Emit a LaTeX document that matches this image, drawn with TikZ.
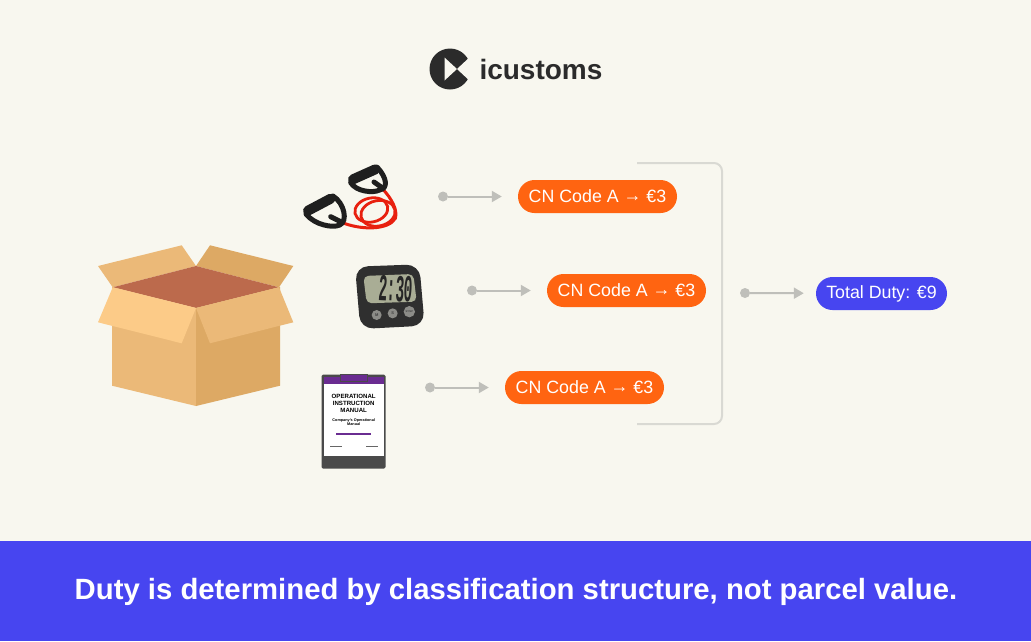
\documentclass[tikz,border=0pt]{standalone}
\usepackage{fontspec}
\usepackage{xcolor}
\usepackage{tikz}
\usetikzlibrary{arrows.meta, shapes.misc}
\setmainfont{Liberation Sans}
\newfontfamily\lcdfont{Liberation Mono}
\definecolor{pagecream}{HTML}{F8F7EF}
\definecolor{dutyblue}{HTML}{4745F0}
\definecolor{codeorange}{HTML}{FF6411}
\definecolor{flowgrey}{HTML}{BFBFBA}
\definecolor{bracketgrey}{HTML}{D9D9D3}
\definecolor{logodark}{HTML}{2B2B2B}
\definecolor{boxlight}{HTML}{EBB978}
\definecolor{boxdark}{HTML}{DDA964}
\definecolor{boxflap}{HTML}{FCCB88}
\definecolor{boxinner}{HTML}{BC6A4C}
\definecolor{clipgrey}{HTML}{4A4A4A}
\definecolor{clippurple}{HTML}{6A2C91}
\definecolor{timerblack}{HTML}{2F2F2F}
\definecolor{timerlcd}{HTML}{A9AD95}
\definecolor{timerkey}{HTML}{8C8C88}
\definecolor{bandred}{HTML}{E8200F}
\newcommand{\codearrow}{\raisebox{1.5pt}{→}}
\tikzset{
    pill/.style={rounded rectangle, fill=#1, text=white, inner sep=0pt, minimum height=33pt, font=\fontsize{17.8}{18}\selectfont},
    flowdot/.style={circle, fill=flowgrey, inner sep=0pt, minimum size=10pt},
    flow/.style={draw=flowgrey, line width=2pt, -{Triangle[length=10pt,width=11pt]}, shorten >=16pt},
    grip/.style={draw=black!88, line cap=round},
}
\begin{document}
\begin{tikzpicture}[x=1pt, y=-1pt]
    \useasboundingbox (0,0) rectangle (1031,641);
    \fill[pagecream] (0,0) rectangle (1031,641);

    % Bottom banner
    \fill[dutyblue] (0,541) rectangle (1031,641);
    \node[text=white, font=\fontsize{29.3}{30}\selectfont\bfseries] (bannertext) at (516,591.5) {Duty is determined by classification structure, not parcel value.};

    % Logo
    \fill[logodark] (450,69) circle (20.5);
    \fill[pagecream] (444.5,57.5) -- (444.5,80.5) -- (457,69) -- cycle;
    \fill[pagecream] (457,69) -- (472,55) -- (472,83) -- cycle;
    \node[text=logodark, anchor=west, font=\fontsize{28}{28}\selectfont\bfseries] (logotext) at (476,69) {icustoms};

    % Open parcel
    \fill[boxlight] (98,266) -- (181.7,245.3) -- (196,266) -- (112.7,287.3) -- cycle;
    \fill[boxdark] (196,266) -- (210,245.3) -- (293.3,266) -- (279,287.3) -- cycle;
    \fill[boxinner] (196,266) -- (279,287.3) -- (196,308) -- (112.7,287.3) -- cycle;
    \fill[boxlight] (112,287) -- (196,308) -- (196,406) -- (112,385.7) -- cycle;
    \fill[boxdark] (196,308) -- (280,287) -- (280,385.7) -- (196,406) -- cycle;
    \fill[boxflap] (112.7,287.3) -- (196,308) -- (181.7,343.3) -- (98,322.3) -- cycle;
    \fill[boxlight] (196,308) -- (279,287.3) -- (293.3,322.3) -- (210,343.3) -- cycle;

    % Resistance band
    \begin{scope}[shift={(298,160)}, scale=1/3]
        \draw[bandred, line width=2.8pt] (220,150) ellipse [x radius=50, y radius=36, rotate=12];
        \draw[bandred, line width=2.8pt] (240,160) ellipse [x radius=52, y radius=38, rotate=12];
        \draw[bandred, line width=3pt] (255,88) .. controls (280,115) and (300,150) .. (292,175) .. controls (272,210) and (190,212) .. (128,186);
        \draw[grip, line width=10pt] (165,58) -- (232,28);
        \draw[grip, line width=5pt] (158,68) .. controls (175,95) and (225,100) .. (245,90) .. controls (270,85) and (268,55) .. (238,22);
        \draw[grip, line width=5pt] (228,66) -- (255,85);
        \draw[grip, line width=10pt] (30,152) -- (98,116);
        \draw[grip, line width=5pt] (24,162) .. controls (50,195) and (105,205) .. (125,195) .. controls (150,185) and (140,130) .. (105,108);
        \draw[grip, line width=5pt] (98,170) -- (130,186);
    \end{scope}

    % Kitchen timer
    \begin{scope}[shift={(290,150)}, scale=1/3]
        \fill[timerblack, rounded corners=13pt] (195,350) -- (388,343) -- (404,527) -- (211,537) -- cycle;
        \fill[timerlcd, rounded corners=5pt] (220,378) -- (370,372) -- (380,455) -- (230,460) -- cycle;
        \node[text=black!85, rotate=-3, xscale=0.38, font=\lcdfont\bfseries\fontsize{38}{38}\selectfont] (lcdtext) at (318,416) {2:30};
        \fill[timerkey] (260,495) circle (15);
        \fill[timerkey] (308,490) circle (15);
        \fill[timerkey] (358,485) circle (17);
        \node[text=black!75, font=\bfseries\fontsize{4}{4}\selectfont] (keyM) at (260,495) {M};
        \node[text=black!75, font=\bfseries\fontsize{4}{4}\selectfont] (keyS) at (308,490) {S};
        \node[text=black!75, font=\bfseries\fontsize{2.6}{3}\selectfont] (keySP) at (358,485) {ST/SP};
    \end{scope}

    % Clipboard with manual
    \fill[clipgrey, rounded corners=1.5pt] (321.5,374.5) rectangle (385.5,468.5);
    \fill[white] (323.5,377) rectangle (383.5,455.5);
    \fill[clippurple] (323.5,377) rectangle (383.5,384);
    \filldraw[clippurple, draw=clipgrey, line width=0.8pt] (340,374.5) rectangle (367,381.5);
    \node[align=center, font=\bfseries\fontsize{6.1}{7.2}\selectfont] (manualtitle) at (353.7,403.5) {OPERATIONAL\\INSTRUCTION\\MANUAL};
    \node[align=center, font=\bfseries\fontsize{3.8}{3.9}\selectfont] (manualsub) at (353.7,422.5) {Company's Operational\\Manual};
    \fill[clippurple] (336,433.2) rectangle (371,435);
    \foreach \rulex in {330,366} {
        \fill[black!60] (\rulex,445.6) rectangle (\rulex+11.5,446.2);
    }

    % Codes and their arrows
    \foreach \n/\dotx/\pillx/\rowy in {A/443/597.5/196.5, B/472/626.5/290.5, C/430/584.5/387.5} {
        \node[flowdot] (dot\n) at (\dotx,\rowy) {};
        \node[pill=codeorange, minimum width=159pt] (pill\n) at (\pillx,\rowy) {CN Code A \codearrow{} €3};
        \draw[flow] (dot\n) -- (pill\n);
    }

    % Bracket that gathers the codes
    \coordinate (bracketTop) at (637,163);
    \coordinate (bracketBot) at (637,424);
    \draw[bracketgrey, line width=2pt, rounded corners=8pt] (bracketTop) -- (722,163) -- (722,424) -- (bracketBot);

    % Total
    \node[flowdot] (dotT) at (745,293) {};
    \node[pill=dutyblue, minimum width=131pt] (pillT) at (881.5,293.5) {Total Duty: €9};
    \draw[flow, shorten >=12pt] (dotT) -- (pillT);
\end{tikzpicture}
\end{document}
